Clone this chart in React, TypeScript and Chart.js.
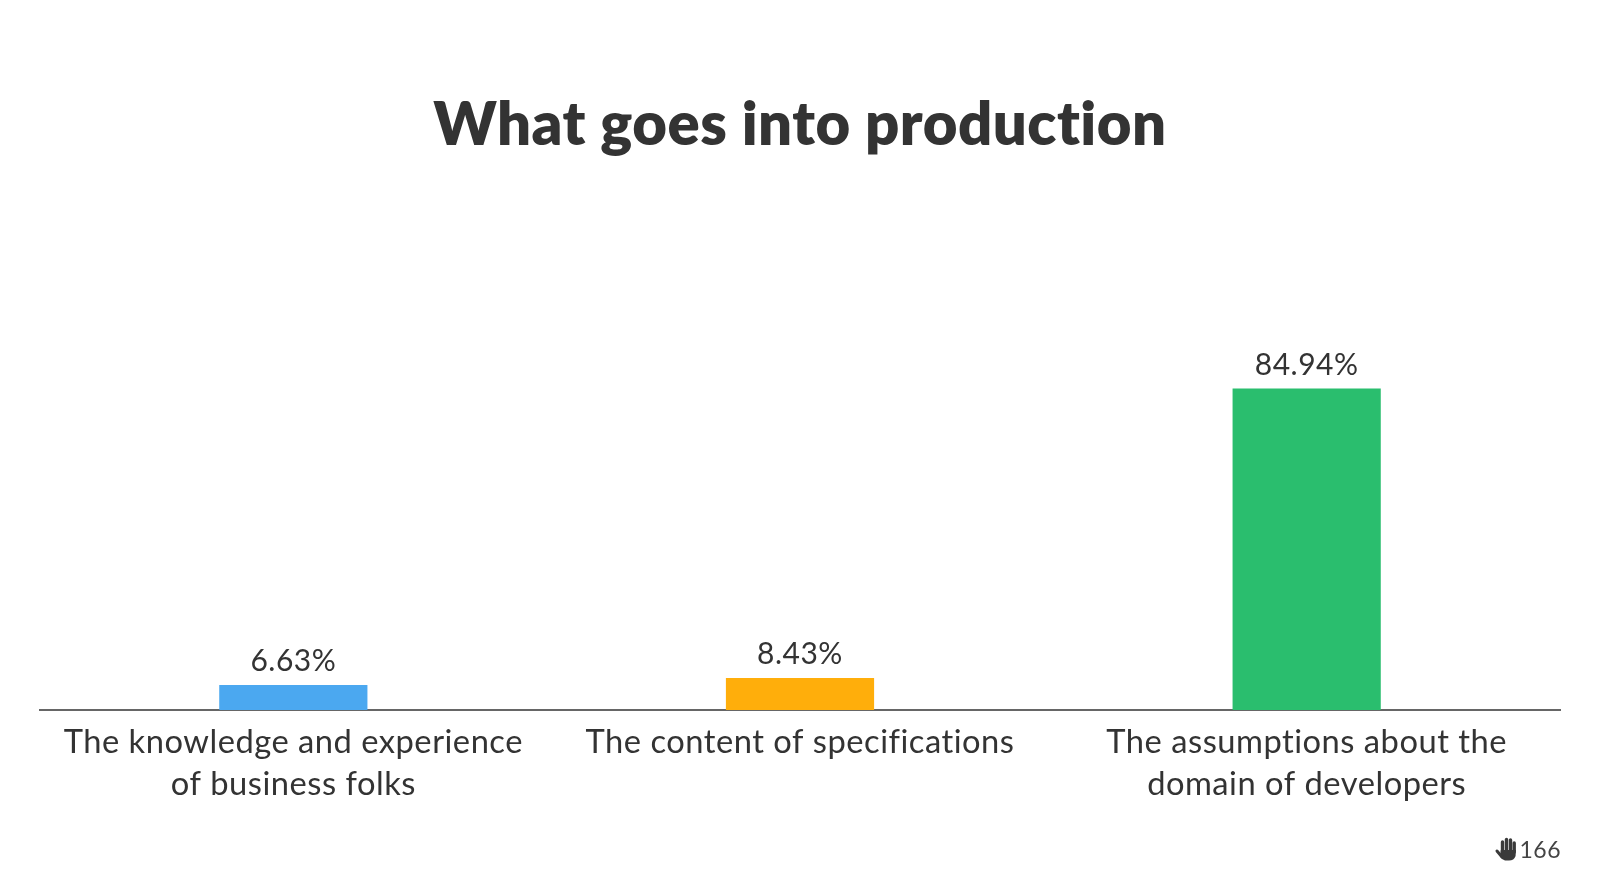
import React, { useEffect, useRef } from "react";
import { Chart, registerables } from "chart.js";

Chart.register(...registerables);

const titleText = "What goes into production";
const categories = [
  ["The knowledge and experience", "of business folks"],
  ["The content of specifications"],
  ["The assumptions about the", "domain of developers"],
];
const values = [6.63, 8.43, 84.94];
const barColors = ["#4BA8F0", "#FFAE0B", "#2ABE6E"];
const reactionCount = "166";
const INK = "#333333";
const FONT = "Lato, 'Noto Sans', sans-serif";

function drawHand(ctx: CanvasRenderingContext2D) {
  ctx.save();
  ctx.strokeStyle = "#3a3a3a";
  ctx.fillStyle = "#3a3a3a";
  ctx.lineCap = "round";
  ctx.lineWidth = 3.4;
  const fingers: [number, number][] = [
    [1502.5, 842],
    [1506.5, 839.5],
    [1510.5, 840],
    [1514.2, 843],
  ];
  fingers.forEach(([x, y]) => {
    ctx.beginPath();
    ctx.moveTo(x, y);
    ctx.lineTo(x, 852);
    ctx.stroke();
  });
  ctx.beginPath();
  ctx.moveTo(1500.8, 850);
  ctx.lineTo(1515.9, 850);
  ctx.lineTo(1515.6, 856);
  ctx.quadraticCurveTo(1514, 860.5, 1509, 860.5);
  ctx.lineTo(1505, 860.5);
  ctx.quadraticCurveTo(1502, 860, 1500, 856.5);
  ctx.closePath();
  ctx.fill();
  ctx.lineWidth = 3;
  ctx.beginPath();
  ctx.moveTo(1497, 851);
  ctx.lineTo(1502, 857);
  ctx.stroke();
  ctx.restore();
}

const labelsPlugin = {
  id: "valueLabels",
  beforeLayout(chart: any) {
    // non-zero spacing switches off Lato's "ti" ligature, as in the reference
    chart.ctx.letterSpacing = "0.5px";
  },
  beforeDraw(chart: any) {
    chart.ctx.letterSpacing = "0.5px";
  },
  afterDatasetsDraw(chart: any) {
    const { ctx } = chart;
    const meta = chart.getDatasetMeta(0);
    ctx.save();
    ctx.fillStyle = INK;
    ctx.font = `400 30px ${FONT}`;
    ctx.textAlign = "center";
    ctx.textBaseline = "alphabetic";
    meta.data.forEach((bar: any, i: number) => {
      ctx.fillText(values[i].toFixed(2) + "%", bar.x, bar.y - 14);
    });
    ctx.font = `400 23px ${FONT}`;
    ctx.textAlign = "right";
    ctx.fillStyle = "#444444";
    ctx.fillText(reactionCount, 1561, 858);
    ctx.restore();
    drawHand(ctx);
  },
};

export default function App() {
  const ref = useRef<HTMLCanvasElement | null>(null);
  useEffect(() => {
    document.body.style.margin = "0";
    document.body.style.background = "#ffffff";
    const chart = new Chart(ref.current!, {
      type: "bar",
      data: {
        labels: categories as any,
        datasets: [
          {
            data: values,
            backgroundColor: barColors,
            barPercentage: 1,
            categoryPercentage: 0.2925,
            borderWidth: 0,
          },
        ],
      },
      plugins: [labelsPlugin],
      options: {
        animation: false,
        responsive: false,
        layout: { padding: { left: 40, right: 40, top: 90, bottom: 0 } },
        plugins: {
          legend: { display: false },
          tooltip: { enabled: false },
          title: {
            display: true,
            text: titleText,
            color: INK,
            font: { family: FONT, size: 59.8, weight: 800 as any, lineHeight: 1.2 },
            padding: { top: 0, bottom: 169.8 },
          },
        },
        scales: {
          x: {
            grid: { display: false, drawTicks: false },
            border: { color: "#666666", width: 2 },
            afterFit(scale: any) {
              scale.height = 184;
            },
            ticks: {
              color: INK,
              font: { family: FONT, size: 32.7, lineHeight: 1.29 },
              maxRotation: 0,
              autoSkip: false,
              padding: 11,
            },
          },
          y: { display: false, min: 0, max: 100 },
        },
      },
    });
    return () => chart.destroy();
  }, []);
  return <canvas ref={ref} width={1600} height={894} style={{ display: "block" }} />;
}
